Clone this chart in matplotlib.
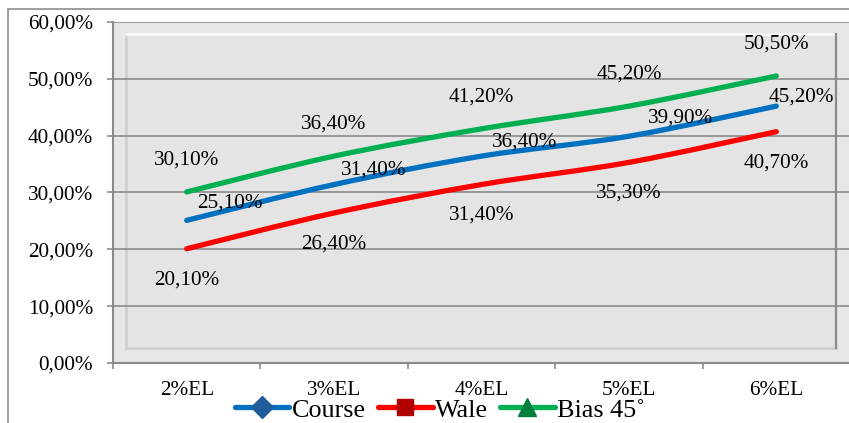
import matplotlib
matplotlib.use("Agg")
import matplotlib.pyplot as plt
from matplotlib.path import Path
from matplotlib.patches import PathPatch, Rectangle
from matplotlib.lines import Line2D
from matplotlib.ticker import FuncFormatter, FixedLocator
import numpy as np

plt.rcParams['font.family'] = ['Liberation Serif', 'DejaVu Serif']

categories = ["2%EL", "3%EL", "4%EL", "5%EL", "6%EL"]
course = [25.10, 31.40, 36.40, 39.90, 45.20]
wale = [20.10, 26.40, 31.40, 35.30, 40.70]
bias = [30.10, 36.40, 41.20, 45.20, 50.50]
series_names = ["Course", "Wale", "Bias 45˚"]

colors = {"Course": "#0070C0", "Wale": "#FF0000", "Bias 45˚": "#00B050"}
marker_colors = {"Course": "#1F5C99", "Wale": "#B00000", "Bias 45˚": "#00803C"}
markers = {"Course": "D", "Wale": "s", "Bias 45˚": "^"}
msizes = {"Course": 11, "Wale": 11, "Bias 45˚": 13}

# label offsets in pixels (dx, dy)
px = 0.72
off_course = [(43, 17), (40, 14), (43, 14), (52, 18), (25, 9)]
off_wale = [(0, -31)] * 5
off_bias = [(0, 32)] * 5

FS = 15.3

W, H = 849, 423
fig = plt.figure(figsize=(W / 100, H / 100), dpi=100)
fig.patch.set_facecolor("white")

# outer chart border
fig.add_artist(Rectangle((8 / W, -0.1), 1.2, 1.1 - 9 / H, transform=fig.transFigure,
                         fill=False, edgecolor="#8C8C8C", lw=1.2))

ax = fig.add_axes([113 / W, (H - 363) / H, 737 / W, 341 / H])
ax.set_facecolor("#E6E6E6")
ax.set_xlim(-0.5, 4.5)
ax.set_ylim(0, 60)

# inner panel
x0, x1 = 13 / 737, 723 / 737
y0, y1 = 15 / 341, 329 / 341
ax.add_patch(Rectangle((x0, y0), x1 - x0, y1 - y0, transform=ax.transAxes,
                       facecolor="#E4E4E4", edgecolor="none", zorder=0.5))
ax.plot([x0, x0], [y0, y1], transform=ax.transAxes, color="#D0D0D0", lw=2.0, zorder=0.6)
ax.plot([x0, x1], [y0, y0], transform=ax.transAxes, color="#D0D0D0", lw=2.0, zorder=0.6)
ax.plot([x0, x1], [y1, y1], transform=ax.transAxes, color="#FAFAFA", lw=1.8, zorder=0.6)
ax.plot([x1, x1], [y0, y1], transform=ax.transAxes, color="#8A8A8A", lw=1.6, zorder=0.6)

ax.yaxis.set_major_locator(FixedLocator(np.arange(0, 61, 10)))
ax.grid(axis="y", color="#8A8A8A", lw=1.2, zorder=1)
ax.set_axisbelow(False)

for s in ["top", "right"]:
    ax.spines[s].set_visible(False)
for s in ["left", "bottom"]:
    ax.spines[s].set_color("#8A8A8A")
    ax.spines[s].set_linewidth(1.5)

ax.yaxis.set_major_formatter(FuncFormatter(lambda v, p: f"{v:.2f}%".replace(".", ",")))
ax.tick_params(axis="y", length=4.5, width=1.2, color="#8A8A8A", pad=10, labelsize=FS)
ax.set_xticks(range(len(categories)))
ax.set_xticklabels(categories)
ax.tick_params(axis="x", which="major", length=0, pad=13, labelsize=FS)
ax.set_xticks(np.arange(-0.5, 5, 1.0), minor=True)
ax.tick_params(axis="x", which="minor", length=4, width=1.2, color="#8A8A8A")


def smooth_path(xs, ys):
    pts = np.column_stack([xs, ys]).astype(float)
    n = len(pts)
    verts = [pts[0]]
    codes = [Path.MOVETO]
    for i in range(n - 1):
        p0 = pts[i - 1] if i > 0 else pts[i]
        p1 = pts[i]
        p2 = pts[i + 1]
        p3 = pts[i + 2] if i + 2 < n else pts[i + 1]
        c1 = p1 + (p2 - p0) / 6
        c2 = p2 - (p3 - p1) / 6
        verts += [c1, c2, p2]
        codes += [Path.CURVE4] * 3
    return Path(verts, codes)


xs = np.arange(len(categories))
for name, vals, offs in [("Course", course, off_course), ("Wale", wale, off_wale),
                         ("Bias 45˚", bias, off_bias)]:
    patch = PathPatch(smooth_path(xs, vals), fill=False, edgecolor=colors[name], lw=3.8,
                      capstyle="round", joinstyle="round", zorder=3)
    ax.add_patch(patch)
    for x, v, (dx, dy) in zip(xs, vals, offs):
        ax.annotate(f"{v:.2f}%".replace(".", ","), (x, v), xytext=(dx * px, dy * px),
                    textcoords="offset points", ha="center", va="center",
                    fontsize=FS, color="black", zorder=4, annotation_clip=False)

handles = [Line2D([], [], color=colors[n], lw=3.8, marker=markers[n], markersize=msizes[n],
                  markerfacecolor=marker_colors[n], markeredgecolor=marker_colors[n],
                  solid_capstyle="round") for n in series_names]
fig.legend(handles, series_names, loc="center", bbox_to_anchor=(440 / W, 1 - 410 / H),
           ncol=3, frameon=False, fontsize=18.8, handlelength=2.1, handletextpad=0.1,
           columnspacing=0.45, borderpad=0, borderaxespad=0)

fig.savefig("out.png", dpi=100)
